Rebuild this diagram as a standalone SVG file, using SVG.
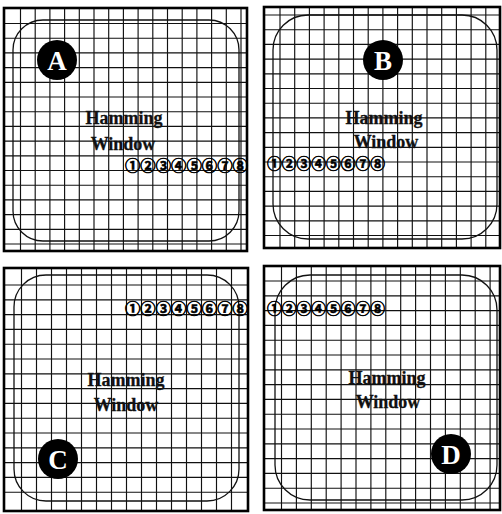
<svg xmlns="http://www.w3.org/2000/svg" width="502" height="514" viewBox="0 0 502 514">
<style>
.frame{fill:none;stroke:#000;stroke-width:2.6}
.grid{fill:none;stroke:#111;stroke-width:1.15}
.win{fill:none;stroke:#111;stroke-width:1.3}
.lbl{font-family:"Liberation Serif",serif;font-weight:bold;font-size:18px;fill:#111;stroke:#111;stroke-width:0.3;text-anchor:middle}
.badge{fill:#000}
.bl{font-family:"Liberation Serif",serif;font-weight:bold;font-size:27px;fill:#fff;text-anchor:middle}
.num{font-family:"Noto Sans CJK JP","Noto Sans CJK SC",sans-serif;font-weight:bold;font-size:15px;fill:#000;stroke:#000;stroke-width:0.6}
</style>
<rect width="502" height="514" fill="#fff"/>
<g id="panelA">
<path class="grid" d="M20.5 8V251M35.2 8V251M49.9 8V251M64.6 8V251M79.3 8V251M94 8V251M108.7 8V251M123.4 8V251M138.1 8V251M152.8 8V251M167.5 8V251M182.2 8V251M196.9 8V251M211.6 8V251M226.3 8V251M241 8V251M4 23.5H247M4 38.2H247M4 52.9H247M4 67.6H247M4 82.3H247M4 97H247M4 111.7H247M4 126.4H247M4 141.1H247M4 155.8H247M4 170.5H247M4 185.2H247M4 199.9H247M4 214.6H247M4 229.3H247M4 244H247"/>
<rect class="win" x="13" y="20" width="226" height="221" rx="30"/>
<rect class="frame" x="4" y="8" width="243" height="243"/>
<circle class="badge" cx="57" cy="60" r="20"/>
<text class="bl" x="57" y="70">A</text>
<text class="lbl" x="124" y="124">Hamming</text>
<text class="lbl" x="123" y="150">Window</text>
<text class="num" x="125" y="171" textLength="123" lengthAdjust="spacingAndGlyphs">①②③④⑤⑥⑦⑧</text>
</g>
<g id="panelB">
<path class="grid" d="M280 7V248M294.7 7V248M309.4 7V248M324.1 7V248M338.8 7V248M353.5 7V248M368.2 7V248M382.9 7V248M397.6 7V248M412.3 7V248M427 7V248M441.7 7V248M456.4 7V248M471.1 7V248M485.8 7V248M264 15H500M264 29.7H500M264 44.4H500M264 59.1H500M264 73.8H500M264 88.5H500M264 103.2H500M264 117.9H500M264 132.6H500M264 147.3H500M264 162H500M264 176.7H500M264 191.4H500M264 206.1H500M264 220.8H500M264 235.5H500"/>
<rect class="win" x="273" y="15" width="224" height="224" rx="35"/>
<rect class="frame" x="264" y="7" width="236" height="241"/>
<circle class="badge" cx="383" cy="60" r="20"/>
<text class="bl" x="383" y="70">B</text>
<text class="lbl" x="384" y="124">Hamming</text>
<text class="lbl" x="386" y="148">Window</text>
<text class="num" x="267" y="169" textLength="118" lengthAdjust="spacingAndGlyphs">①②③④⑤⑥⑦⑧</text>
</g>
<g id="panelC">
<path class="grid" d="M21.5 268V511M36.5 268V511M51.5 268V511M66.5 268V511M81.5 268V511M96.5 268V511M111.5 268V511M126.5 268V511M141.5 268V511M156.5 268V511M171.5 268V511M186.5 268V511M201.5 268V511M216.5 268V511M231.5 268V511M4 285H248M4 299.8H248M4 314.6H248M4 329.4H248M4 344.2H248M4 359H248M4 373.8H248M4 388.6H248M4 403.4H248M4 418.2H248M4 433H248M4 447.8H248M4 462.6H248M4 477.4H248M4 492.2H248"/>
<rect class="win" x="14" y="275" width="225" height="226" rx="32"/>
<rect class="frame" x="4" y="268" width="244" height="243"/>
<circle class="badge" cx="58" cy="459" r="20"/>
<text class="bl" x="58" y="469">C</text>
<text class="lbl" x="126" y="386">Hamming</text>
<text class="lbl" x="126" y="411">Window</text>
<text class="num" x="125" y="314" textLength="123" lengthAdjust="spacingAndGlyphs">①②③④⑤⑥⑦⑧</text>
</g>
<g id="panelD">
<path class="grid" d="M281.5 266V510M296.4 266V510M311.3 266V510M326.2 266V510M341.1 266V510M356 266V510M370.9 266V510M385.8 266V510M400.7 266V510M415.6 266V510M430.5 266V510M445.4 266V510M460.3 266V510M475.2 266V510M490.1 266V510M264 281H500M264 295.8H500M264 310.6H500M264 325.4H500M264 340.2H500M264 355H500M264 369.8H500M264 384.6H500M264 399.4H500M264 414.2H500M264 429H500M264 443.8H500M264 458.6H500M264 473.4H500M264 488.2H500M264 503H500"/>
<rect class="win" x="275" y="275" width="222" height="225" rx="35"/>
<rect class="frame" x="264" y="266" width="236" height="244"/>
<circle class="badge" cx="451" cy="454" r="20"/>
<text class="bl" x="451" y="464">D</text>
<text class="lbl" x="387" y="384">Hamming</text>
<text class="lbl" x="388" y="408">Window</text>
<text class="num" x="267" y="314" textLength="118" lengthAdjust="spacingAndGlyphs">①②③④⑤⑥⑦⑧</text>
</g>
<g id="connectors"></g>
</svg>
